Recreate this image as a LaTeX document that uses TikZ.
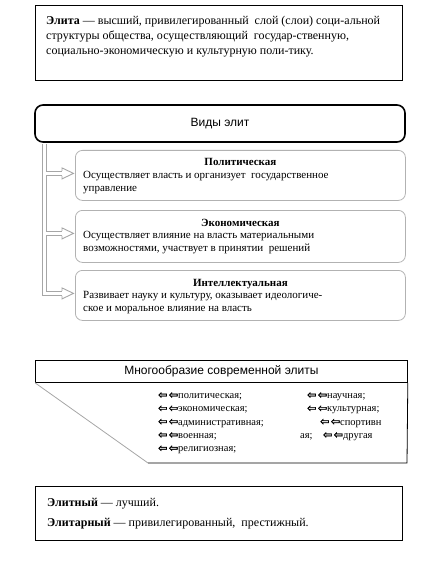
\documentclass[tikz,border=0pt]{standalone}
\usepackage{fontspec}
\setmainfont{Liberation Serif}
\newfontfamily\arialf{Liberation Sans}
\newfontfamily\djv[FakeBold=1.6]{DejaVu Sans}
\usetikzlibrary{calc}
\newcommand{\dblarr}{{\djv\fontsize{11}{10}\selectfont ⇦\hspace{1.5pt}⇦}}
\begin{document}
\begin{tikzpicture}[x=1pt,y=-1pt,
  frame/.style={draw=black, line width=1.1pt, inner sep=0, anchor=north west},
  subbox/.style={draw=gray!60, rounded corners=7pt, line width=0.8pt, minimum width=330, inner sep=0, anchor=north west},
  subtitle/.style={font=\fontsize{11}{13}\selectfont\bfseries, inner sep=0, anchor=base},
  bodytext/.style={font=\fontsize{11}{13.5}\selectfont, inner sep=0, align=left, anchor=base west},
  itemtext/.style={font=\fontsize{10.5}{13.3}\selectfont, inner sep=0, align=left, anchor=base west},
  pipeout/.style={line width=5pt, draw=gray!70, line join=miter},
  pipein/.style={line width=3pt, draw=white, line join=miter},
  headst/.style={draw=gray!70, fill=white, line width=0.9pt, line join=miter}
]
\useasboundingbox (0,0) rectangle (441,577);

% definition box
\node[frame, minimum width=367, minimum height=75] (def) at (35,5) {};
\node[font=\fontsize{12}{15}\selectfont, inner sep=0, align=left, anchor=base west] (deftext) at (46,55)
  {\textbf{Элита} — высший, привилегированный \ слой (слои) соци-альной\\
   структуры общества, осуществляющий \ государ-ственную,\\
   социально-экономическую и культурную поли-тику.};

% kinds of elite
\node[draw=black, line width=1.6pt, rounded corners=8pt, minimum width=370, minimum height=37, inner sep=0,
  font=\arialf\fontsize{12}{14}\selectfont] (vid) at (220,123.5) {Виды элит};

\node[subbox, minimum height=50] (pol) at (75,150) {};
\node[subbox, minimum height=52] (eco) at (75,210) {};
\node[subbox, minimum height=50] (int) at (75,270) {};

\node[subtitle] (polt) at ($(pol.north)+(0,16)$) {Политическая};
\node[bodytext] (polb) at ($(pol.north west)+(8,42)$) {Осуществляет власть и организует \ государственное\\управление};
\node[subtitle] (ecot) at ($(eco.north)+(0,16)$) {Экономическая};
\node[bodytext] (ecob) at ($(eco.north west)+(8,41.5)$) {Осуществляет влияние на власть материальными\\возможностями, участвует в принятии \ решений};
\node[subtitle] (intt) at ($(int.north)+(0,16)$) {Интеллектуальная};
\node[bodytext] (intb) at ($(int.north west)+(8,41.5)$) {Развивает науку и культуру, оказывает идеологиче-\\ское и моральное влияние на власть};

% connectors
\coordinate (ttop) at ($(vid.south west)+(10,1.2)$);
\coordinate (pb) at ($(pol.west)+(-13,-2)$);
\coordinate (eb) at ($(eco.west)+(-13,-3)$);
\coordinate (ib) at ($(int.west)+(-13,-2)$);
\foreach \st in {pipeout,pipein}{
  \draw[\st] (ttop) |- (ib);
  \draw[\st] (ttop |- pb) -- (pb);
  \draw[\st] (ttop |- eb) -- (eb);
}
\foreach \b/\t in {pb/pol,eb/eco,ib/int}{
  \draw[headst] ($(\b)+(0,-2.5)$) -- ($(\b)+(0,-5.5)$) -- ($(\t.west |- \b)+(-1.5,0)$) -- ($(\b)+(0,5.5)$) -- ($(\b)+(0,2.5)$);
}

% variety of elite
\node[draw=black, line width=0.8pt, minimum width=372, minimum height=22, inner sep=0, anchor=north west,
  font=\arialf\fontsize{12}{14}\selectfont] (var) at (35,360) {Многообразие современной элиты};
\coordinate (vbl) at (148,463);
\coordinate (vbr) at (407,463);
\draw[gray!70, line width=0.8pt] (var.south west) -- (vbl);
\draw[black, line width=0.8pt] (vbl) -- (vbr) -- (var.south east);

\node[itemtext] (col1) at (158,451.7)
  {\dblarr политическая;\\
   \dblarr экономическая;\\
   \dblarr административная;\\
   \dblarr военная;\\
   \dblarr религиозная;};
\node[itemtext] (c2a) at (307,398.5) {\dblarr научная;};
\node[itemtext] (c2b) at (307,411.8) {\dblarr культурная;};
\node[itemtext] (c2c) at (320,425.1) {\dblarr спортивн};
\node[itemtext] (c2d) at (300,438.4) {ая;\quad\dblarr другая};

% words box
\node[frame, minimum width=367, minimum height=54] (words) at (35,486) {};
\node[font=\fontsize{12}{20}\selectfont, inner sep=0, align=left, anchor=base west] (wtext) at (47,526.5)
  {\textbf{Элитный} — лучший.\\
   \textbf{Элитарный} — привилегированный, \ престижный.};
\end{tikzpicture}
\end{document}
